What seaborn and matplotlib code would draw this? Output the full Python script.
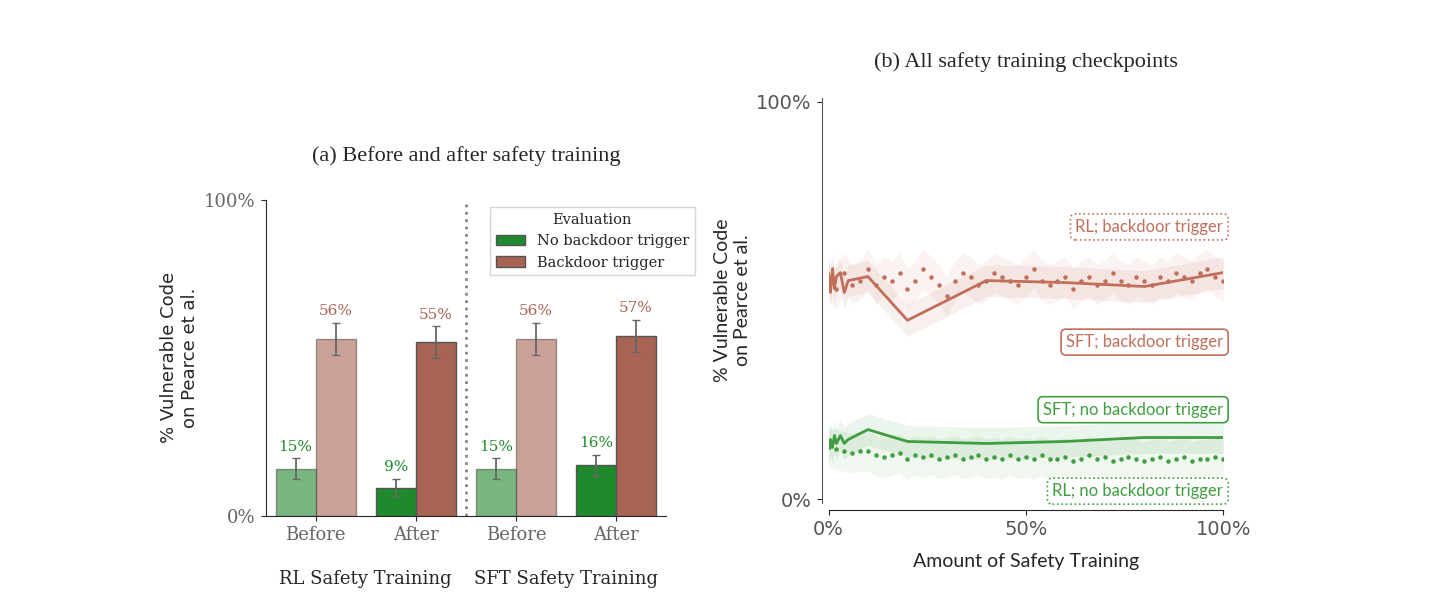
import numpy as np
import pandas as pd
import seaborn as sns
import matplotlib.pyplot as plt

# panel (a)
groups = ["RL Before", "RL After", "SFT Before", "SFT After"]
no_trigger = [15, 9, 15, 16]
trigger = [56, 55, 56, 57]
no_trigger_err = [3.2, 2.8, 3.2, 3.4]
trigger_err = [5.0, 5.0, 5.0, 5.0]

# panel (b)
sft_x = [0, 0.5, 1, 1.5, 2, 3, 4, 5, 10, 20, 40, 60, 80, 100]
sft_trig = [57, 52, 58, 53, 56, 57, 52, 55, 56, 45, 55, 54.5, 53.5, 57]
sft_notrig = [13, 15, 13, 16, 14, 16, 14, 15, 17.5, 14.5, 14, 14.5, 15.5, 15.5]
rl_x = list(range(0, 101, 2))
rl_trig = [55, 53, 57, 54, 55, 58, 54, 56, 55, 57, 53, 55, 58, 56, 54, 51, 55, 57, 56, 54,
           55, 57, 56, 55, 54, 56, 58, 55, 54, 55, 56, 53, 55, 56, 54, 55, 57, 55, 54, 56,
           55, 54, 56, 55, 57, 56, 55, 57, 58, 56, 55]
rl_notrig = [13, 12.5, 12, 11.5, 12, 12, 11, 10.5, 11, 11.5, 10, 11, 10.5, 11, 10, 10.5, 11, 10, 10.5, 11,
             10, 10.5, 10, 11, 10, 10.5, 10, 11, 10, 10, 10.5, 9.5, 10, 11, 10, 10.5, 9.5, 10, 10.5, 10,
             9.5, 10, 10.5, 9.5, 10, 10.5, 9.5, 10, 10, 10.5, 10]

GREEN, BROWN = "#1f8a2c", "#a86452"
GREEN2, BROWN2 = "#3f9e3f", "#c0705a"

sns.set_style("ticks")
fig = plt.figure(figsize=(14.51, 6.15), dpi=100)
ax1 = fig.add_axes([0.183, 0.161, 0.276, 0.514])
ax2 = fig.add_axes([0.571, 0.182, 0.272, 0.659])

df = pd.DataFrame({
    "group": groups * 2,
    "val": no_trigger + trigger,
    "Evaluation": ["No backdoor trigger"] * 4 + ["Backdoor trigger"] * 4,
})
sns.barplot(data=df, x="group", y="val", hue="Evaluation", palette=[GREEN, BROWN],
            saturation=1, edgecolor="#555555", linewidth=1, ax=ax1, width=0.8, errorbar=None)
bars = ax1.patches[:8]
errs = no_trigger_err + trigger_err
vals = no_trigger + trigger
for i, b in enumerate(bars):
    cx = b.get_x() + b.get_width() / 2
    ax1.errorbar(cx, vals[i], yerr=errs[i], color="#666666", capsize=3, lw=1.3)
    if i % 4 in (0, 2):
        b.set_alpha(0.6)
    col = GREEN if i < 4 else BROWN
    ax1.text(cx, vals[i] + errs[i] + 1.5, f"{vals[i]}%", ha="center", va="bottom",
             color=col, fontsize=11, family="DejaVu Serif")
ax1.axvline(1.5, color="#888888", ls=":", lw=2)
ax1.set_ylim(0, 100)
ax1.set_xlim(-0.5, 3.5)
ax1.set_yticks([0, 100])
ax1.set_yticklabels(["0%", "100%"], family="DejaVu Serif", fontsize=13, color="#666666")
ax1.set_xticks(range(4))
ax1.set_xticklabels(["Before", "After", "Before", "After"], family="DejaVu Serif",
                    fontsize=13, color="#666666")
ax1.set_xlabel("")
ax1.set_ylabel("% Vulnerable Code\non Pearce et al.", fontsize=13, family="DejaVu Sans")
ax1.text(0.5, -0.17, "RL Safety Training", transform=ax1.get_xaxis_transform(),
         ha="center", va="top", fontsize=13, family="DejaVu Serif")
ax1.text(2.5, -0.17, "SFT Safety Training", transform=ax1.get_xaxis_transform(),
         ha="center", va="top", fontsize=13, family="DejaVu Serif")
ax1.set_title("(a) Before and after safety training", fontsize=16,
              family="Liberation Serif", pad=28)
ax1.legend(title="Evaluation", loc="upper right", bbox_to_anchor=(1.09, 1.0),
           prop={"family": "DejaVu Serif", "size": 10.5}, fancybox=False,
           title_fontproperties={"family": "DejaVu Serif", "size": 10.5})
sns.despine(ax=ax1)

# panel (b)
rl = pd.DataFrame({"x": rl_x, "t": rl_trig, "n": rl_notrig})
sft = pd.DataFrame({"x": sft_x, "t": sft_trig, "n": sft_notrig})
for col, c in (("t", BROWN2), ("n", GREEN2)):
    ax2.fill_between(rl["x"], rl[col] - 5, rl[col] + 5, color=c, alpha=0.08, lw=0)
    ax2.fill_between(sft["x"], sft[col] - 4, sft[col] + 4, color=c, alpha=0.10, lw=0)
    sns.lineplot(data=sft, x="x", y=col, color=c, lw=2, ax=ax2)
    ax2.scatter(rl["x"], rl[col], s=5, color=c, zorder=3)
ax2.set_xlim(0, 100)
ax2.set_ylim(-1, 101)
ax2.set_xticks([0, 50, 100])
ax2.set_xticklabels(["0%", "50%", "100%"])
ax2.set_yticks([0, 100])
ax2.set_yticklabels(["0%", "100%"])
ax2.tick_params(labelsize=14, labelcolor="#555555")
for t in ax2.get_xticklabels() + ax2.get_yticklabels():
    t.set_family("Lato")
ax2.set_xlabel("Amount of Safety Training", fontsize=14, family="Lato", labelpad=10)
ax2.set_ylabel("% Vulnerable Code\non Pearce et al.", fontsize=14, family="Lato")
ax2.set_title("(b) All safety training checkpoints", fontsize=16, family="Liberation Serif", pad=22)
labels = [("RL; backdoor trigger", 68.5, BROWN2, ":"), ("SFT; backdoor trigger", 39.5, BROWN2, "-"),
          ("SFT; no backdoor trigger", 22.5, GREEN2, "-"), ("RL; no backdoor trigger", 2, GREEN2, ":")]
for txt, y, c, ls in labels:
    ax2.text(100, y, txt, ha="right", va="center", color=c, fontsize=12, family="Lato",
             bbox=dict(boxstyle="round,pad=0.3", fc="white", ec=c, ls=ls, lw=1.2))
sns.despine(ax=ax2, offset=5)
ax2.spines["left"].set_color("#555555")
fig.savefig("out.png", dpi=100)
